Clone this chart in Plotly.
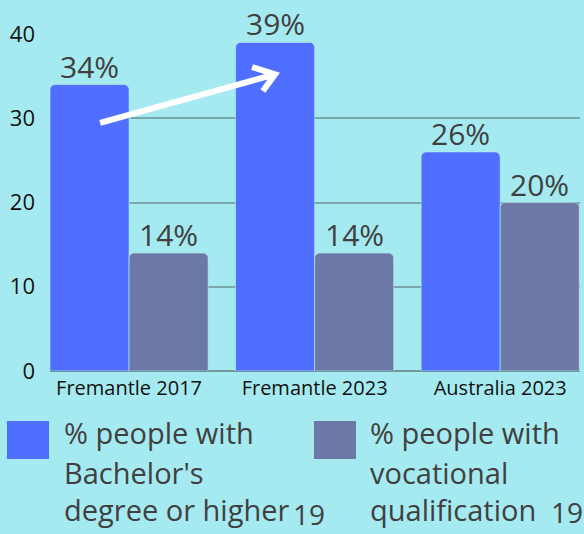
import plotly.graph_objects as go

categories = ["Fremantle 2017", "Fremantle 2023", "Australia 2023"]
bachelor = [34, 39, 26]
vocational = [14, 14, 20]
bachelor_labels = ["34%", "39%", "26%"]
vocational_labels = ["14%", "14%", "20%"]
series_names = ["% people with<br>Bachelor's<br>degree or higher",
                "% people with<br>vocational<br>qualification"]
legend_lines = [["% people with", "Bachelor's", "degree or higher"],
                ["% people with", "vocational", "qualification"]]
y_ticks = [0, 10, 20, 30, 40]

BG = "#a5eaf0"
BLUE = "#506eff"
GRAY = "#6c78a5"
TXT = "#404040"
FONT = "Open Sans"
BARGAP = 0.148

fig = go.Figure()
fig.add_trace(go.Bar(x=categories, y=bachelor, name=series_names[0],
                     marker=dict(color=BLUE, line=dict(color="#b8eef4", width=0.6))))
fig.add_trace(go.Bar(x=categories, y=vocational, name=series_names[1],
                     marker=dict(color=GRAY, line=dict(color="#b8eef4", width=0.6))))

W, H = 584, 534
L, R, T, B = 50, 4, 34, 163
pw = W - L - R
ph = H - T - B

def px(x):
    return (x - L) / pw

def py(y):
    return (H - B - y) / ph

annotations = []
# value labels from data, placed at bar tops
half = (1 - BARGAP) / 4
for vals, labs, off in [(bachelor, bachelor_labels, -half), (vocational, vocational_labels, half)]:
    for i, (v, lab) in enumerate(zip(vals, labs)):
        annotations.append(dict(text=lab, x=i + off, y=v, xref="x", yref="y",
                                xanchor="center", yanchor="bottom", yshift=-4,
                                showarrow=False,
                                font=dict(size=30, color=TXT, family=FONT)))

# arrow (data coordinates)
tail = (-0.156, 29.44)
tip = (0.787, 35.22)
arm1 = (0.663, 36.08)
arm2 = (0.721, 33.23)
path = (f"M {tail[0]},{tail[1]} L {tip[0]},{tip[1]} "
        f"M {arm1[0]},{arm1[1]} L {tip[0]},{tip[1]} L {arm2[0]},{arm2[1]}")
shapes = [dict(type="path", path=path, xref="x", yref="y",
               line=dict(color="white", width=6), layer="above")]

# legend squares
sq = [(7, 49, BLUE), (314, 356, GRAY)]
for x0, x1, c in sq:
    shapes.append(dict(type="rect", xref="paper", yref="paper",
                       x0=px(x0), x1=px(x1), y0=py(459), y1=py(421),
                       fillcolor=c, line=dict(width=0)))

text_x = [62, 368]
line_y = [432, 472, 509]
for lines, tx in zip(legend_lines, text_x):
    for ln, ly in zip(lines, line_y):
        annotations.append(dict(text=ln, xref="paper", yref="paper",
                                x=px(tx), y=py(ly), xanchor="left", yanchor="middle",
                                showarrow=False,
                                font=dict(size=29, color=TXT, family=FONT)))
for tx, ty in [(291, 514), (549, 512)]:
    annotations.append(dict(text="19", xref="paper", yref="paper",
                            x=px(tx), y=py(ty), xanchor="left", yanchor="middle",
                            showarrow=False,
                            font=dict(size=28, color=TXT, family=FONT)))

fig.update_layout(
    width=W, height=H,
    margin=dict(l=L, r=R, t=T, b=B, pad=0),
    paper_bgcolor=BG, plot_bgcolor=BG,
    barmode="group", bargap=BARGAP, bargroupgap=0,
    barcornerradius=5,
    showlegend=False,
    shapes=shapes, annotations=annotations,
    xaxis=dict(type="category", range=[-0.426, 2.43], showgrid=False,
               showline=False, zeroline=False, ticks="",
               tickfont=dict(size=20, color="#111111", family=FONT),
               ticklabelstandoff=3, fixedrange=True),
    yaxis=dict(range=[0, 40], tickvals=y_ticks, showgrid=True,
               gridcolor="#7aa8aa", gridwidth=1.5, zeroline=True,
               zerolinecolor="#6f9799", zerolinewidth=1.5,
               ticks="", tickfont=dict(size=22, color="#111111", family=FONT),
               ticklabelstandoff=14, fixedrange=True),
)

fig.write_html("out.html", config={"displayModeBar": False},
               post_script="document.body.style.margin='0';document.body.style.background='" + BG + "';")
